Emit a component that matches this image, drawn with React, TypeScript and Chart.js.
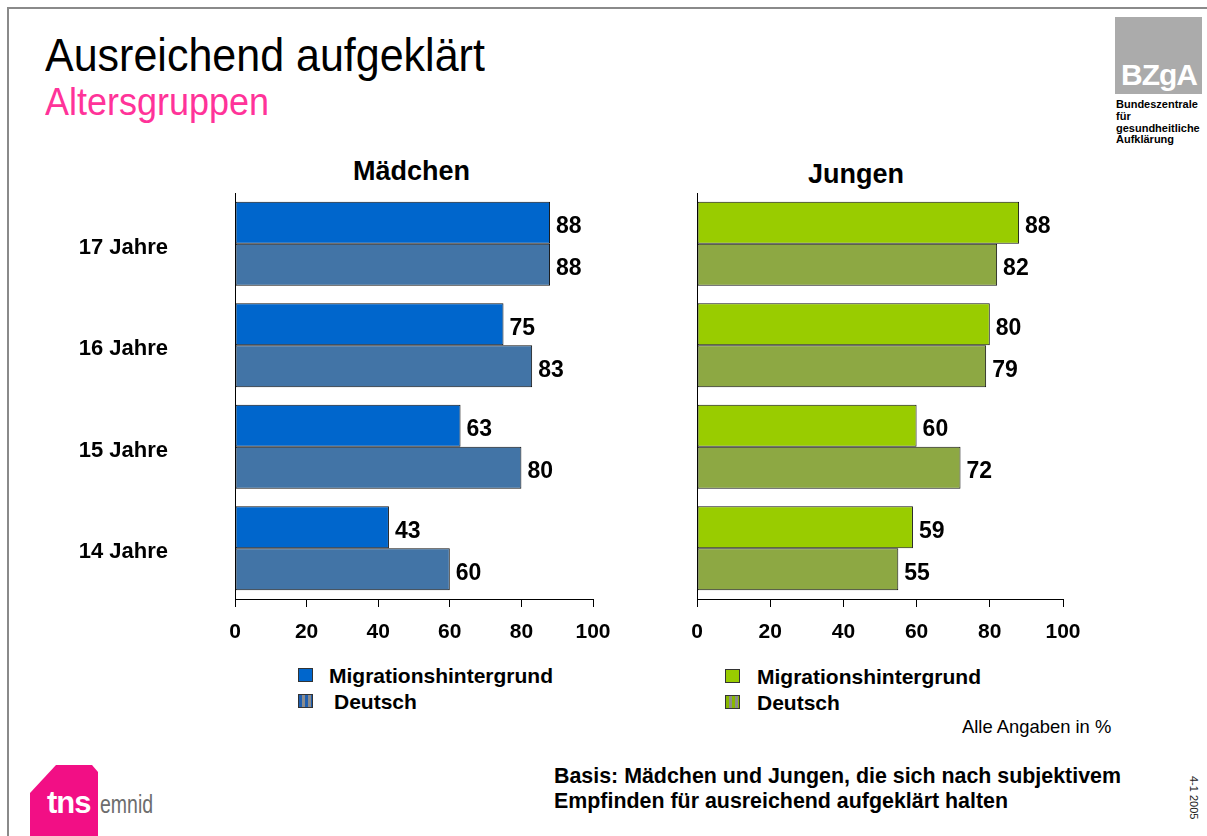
import React, { useEffect, useRef } from "react";
import { Chart, registerables } from "chart.js";
Chart.register(...registerables);

const ageGroups = ["17 Jahre", "16 Jahre", "15 Jahre", "14 Jahre"];
const seriesNames = ["Migrationshintergrund", "Deutsch"];
const maedchenMigration = [88, 75, 63, 43];
const maedchenDeutsch = [88, 83, 80, 60];
const jungenMigration = [88, 80, 60, 59];
const jungenDeutsch = [82, 79, 72, 55];
const xMin = 0;
const xMax = 100;
const xStep = 20;

const FONT = '"Liberation Sans", Arial, Helvetica, sans-serif';

const valueLabels = {
  id: "valueLabels",
  afterDatasetsDraw(chart: any) {
    const ctx = chart.ctx;
    ctx.save();
    ctx.font = `bold 23px ${FONT}`;
    ctx.fillStyle = "#000";
    ctx.textBaseline = "middle";
    ctx.textAlign = "left";
    chart.data.datasets.forEach((ds: any, i: number) => {
      const meta = chart.getDatasetMeta(i);
      meta.data.forEach((el: any, j: number) => {
        ctx.fillText(String(ds.data[j]), el.x + 6, el.y + 4);
      });
    });
    ctx.restore();
  },
};

function makeConfig(
  mig: number[],
  deu: number[],
  colors: string[],
  showLabels: boolean,
  yWidth: number,
  padRight: number
): any {
  const ds = (label: string, data: number[], color: string) => ({
    label,
    data,
    backgroundColor: color,
    borderColor: "#111",
    borderWidth: 1,
    borderSkipped: false,
    categoryPercentage: 0.83,
    barPercentage: 1,
  });
  return {
    type: "bar",
    data: {
      labels: ageGroups,
      datasets: [ds(seriesNames[0], mig, colors[0]), ds(seriesNames[1], deu, colors[1])],
    },
    options: {
      indexAxis: "y",
      responsive: false,
      animation: false,
      devicePixelRatio: 1,
      layout: { padding: { left: 0, right: padRight, top: 3, bottom: 0 } },
      plugins: {
        legend: { display: false },
        tooltip: { enabled: false },
        title: { display: false },
      },
      scales: {
        x: {
          type: "linear",
          min: xMin,
          max: xMax,
          ticks: {
            stepSize: xStep,
            font: { size: 21, weight: "bold", family: FONT },
            color: "#000",
            padding: 13,
            maxRotation: 0,
            autoSkip: false,
          },
          grid: {
            display: true,
            drawOnChartArea: false,
            drawTicks: true,
            tickLength: 8,
            color: "#000",
            lineWidth: 1,
          },
          border: { display: true, color: "#000", width: 1 },
          afterFit: (s: any) => {
            s.height = 61;
            s.paddingLeft = 0;
            s.paddingRight = 0;
          },
        },
        y: {
          type: "category",
          ticks: {
            display: showLabels,
            font: { size: 22, weight: "bold", family: FONT },
            color: "#000",
            padding: 67,
            labelOffset: 4,
          },
          grid: { display: false, drawTicks: false },
          border: { display: true, color: "#000", width: 1 },
          afterFit: (s: any) => {
            s.width = yWidth;
            s.paddingTop = 0;
            s.paddingBottom = 0;
          },
        },
      },
    },
    plugins: [valueLabels],
  };
}

const abs = (o: any): React.CSSProperties => ({ position: "absolute", margin: 0, whiteSpace: "nowrap", ...o });

function LegendBlock({ left, top, solid, stripe, textLeft, secondTextLeft }: any) {
  return (
    <>
      <div style={abs({ left, top, width: 15, height: 14, background: solid, boxSizing: "border-box", border: "1px solid #333" })} />
      <div
        style={abs({
          left,
          top: top + 26,
          width: 15,
          height: 14,
          boxSizing: "border-box",
          border: "1px solid #333",
          background: `repeating-linear-gradient(90deg, ${stripe} 0px, ${stripe} 3px, #8c8c8c 3px, #8c8c8c 6px)`,
        })}
      />
      <div style={abs({ left: textLeft, top: top - 3, fontSize: 21, lineHeight: "21px", fontWeight: "bold" })}>{seriesNames[0]}</div>
      <div style={abs({ left: secondTextLeft, top: top + 23, fontSize: 21, lineHeight: "21px", fontWeight: "bold" })}>{seriesNames[1]}</div>
    </>
  );
}

export default function App() {
  const leftRef = useRef<HTMLCanvasElement>(null);
  const rightRef = useRef<HTMLCanvasElement>(null);

  useEffect(() => {
    Chart.defaults.font.family = FONT;
    const c1 = new Chart(leftRef.current!, makeConfig(maedchenMigration, maedchenDeutsch, ["#0066CC", "#4274A6"], true, 235, 27));
    const c2 = new Chart(rightRef.current!, makeConfig(jungenMigration, jungenDeutsch, ["#99CC00", "#8DA843"], false, 57, 27));
    return () => {
      c1.destroy();
      c2.destroy();
    };
  }, []);

  return (
    <div
      style={{
        position: "absolute",
        left: 0,
        top: 0,
        width: 1207,
        height: 836,
        overflow: "hidden",
        background: "#fff",
        fontFamily: FONT,
        color: "#000",
      }}
    >
      <div style={abs({ left: 7, top: 7, width: 1400, height: 1000, borderTop: "2px solid #8a8a8a", borderLeft: "2px solid #8a8a8a" })} />

      <div style={abs({ left: 45, top: 32, fontSize: 43, lineHeight: "43px", transform: "scaleY(1.08)", transformOrigin: "left top" })}>Ausreichend aufgeklärt</div>
      <div style={abs({ left: 45, top: 83, fontSize: 36, lineHeight: "36px", color: "#FF3399", transform: "scaleY(1.08)", transformOrigin: "left top" })}>Altersgruppen</div>

      {/* BZgA logo */}
      <div style={abs({ left: 1115, top: 17, width: 87, height: 77, background: "#ababab" })} />
      <div style={abs({ left: 1121, top: 60, fontSize: 30, lineHeight: "30px", fontWeight: "bold", color: "#fff", letterSpacing: -1 })}>BZgA</div>
      <div style={abs({ left: 1116, top: 99, fontSize: 11, lineHeight: "11.8px", fontWeight: "bold" })}>
        Bundeszentrale
        <br />
        für
        <br />
        gesundheitliche
        <br />
        Aufklärung
      </div>

      <div style={abs({ left: 353, top: 158, fontSize: 27, lineHeight: "27px", fontWeight: "bold" })}>Mädchen</div>
      <div style={abs({ left: 808, top: 161, fontSize: 27, lineHeight: "27px", fontWeight: "bold" })}>Jungen</div>

      <canvas ref={leftRef} width={620} height={470} style={abs({ left: 0, top: 190, width: 620, height: 470, display: "block" })} />
      <canvas ref={rightRef} width={450} height={470} style={abs({ left: 640, top: 190, width: 450, height: 470, display: "block" })} />

      <LegendBlock left={298} top={668} solid="#0066CC" stripe="#1f5fb0" textLeft={329} secondTextLeft={334} />
      <LegendBlock left={725} top={669} solid="#99CC00" stripe="#88b800" textLeft={757} secondTextLeft={757} />

      <div style={abs({ left: 962, top: 718, fontSize: 18.4, lineHeight: "18px" })}>Alle Angaben in %</div>

      <div style={abs({ left: 554, top: 764, fontSize: 21.4, lineHeight: "25px", fontWeight: "bold" })}>
        Basis: Mädchen und Jungen, die sich nach subjektivem
        <br />
        Empfinden für ausreichend aufgeklärt halten
      </div>

      <div style={abs({ left: 1188, top: 776, fontSize: 11, lineHeight: "11px", writingMode: "vertical-rl", color: "#222" })}>4-1 2005</div>

      {/* tns emnid logo */}
      <div
        style={abs({
          left: 30,
          top: 765,
          width: 68,
          height: 71,
          background: "#F20F85",
          clipPath: "polygon(26px 0, 62px 0, 68px 7px, 68px 71px, 0 71px, 0 28px)",
        })}
      />
      <div style={abs({ left: 47, top: 787, fontSize: 31, lineHeight: "31px", fontWeight: "bold", color: "#fff", letterSpacing: -1 })}>tns</div>
      <div style={abs({ left: 100, top: 791, fontSize: 26, lineHeight: "26px", color: "#6d6d6d", transform: "scaleX(0.75)", transformOrigin: "left top" })}>emnid</div>
    </div>
  );
}
